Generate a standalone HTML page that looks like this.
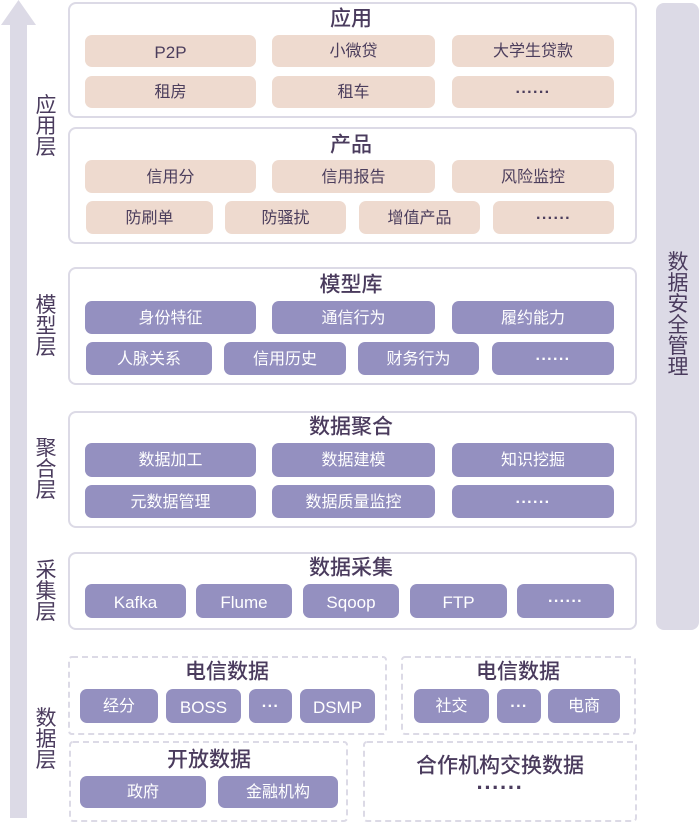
<!DOCTYPE html>
<html><head><meta charset="utf-8"><style>
html,body{margin:0;padding:0;background:#fff;}
body{width:700px;height:823px;position:relative;overflow:hidden;font-family:"Liberation Sans","Noto Sans CJK SC",sans-serif;}
.p{position:absolute;border:2px solid #dcdae6;border-radius:8px;box-sizing:border-box;background:#fff;}
.b{position:absolute;border-radius:7px;display:flex;align-items:center;justify-content:center;font-size:16px;line-height:1;white-space:nowrap;box-sizing:border-box;padding-top:2px;}
.pe{background:#eedacf;color:#4b3d5c;}
.pu{background:#9490c0;color:#fff;}
.lat{font-size:17px;}
.dots{font-weight:bold;letter-spacing:0.5px;}
.t{position:absolute;font-size:21px;font-weight:500;color:#4a3b5d;transform:translate(-50%,-50%);white-space:nowrap;line-height:1;}
.v{position:absolute;font-size:21px;line-height:21px;width:22px;text-align:center;color:#4a3b5d;}
</style></head><body>
<svg width="700" height="823" style="position:absolute;left:0;top:0">
<polygon points="1,25 18.5,0 36,25 27,25 27,818 10,818 10,25" fill="#dcdae6"/>
<rect x="656" y="3" width="43" height="627" rx="8" fill="#dcdae6"/>
<g fill="none" stroke="#dcdae6" stroke-width="2" stroke-dasharray="6 4">
<rect x="69" y="657" width="317" height="77" rx="3"/>
<rect x="402" y="657" width="233" height="77" rx="3"/>
<rect x="70" y="742" width="277" height="79" rx="3"/>
<rect x="364" y="742" width="272" height="79" rx="3"/>
</g>
</svg>

<div class="v" style="left:35px;top:95px">应<br>用<br>层</div>
<div class="v" style="left:35px;top:295px">模<br>型<br>层</div>
<div class="v" style="left:35px;top:438px">聚<br>合<br>层</div>
<div class="v" style="left:35px;top:560px">采<br>集<br>层</div>
<div class="v" style="left:35px;top:708px">数<br>据<br>层</div>
<div class="v" style="left:667px;top:252px">数<br>据<br>安<br>全<br>管<br>理</div>

<!-- 应用 -->
<div class="p" style="left:68px;top:2px;width:569px;height:116px"></div>
<div class="t" style="left:351px;top:19px">应用</div>
<div class="b pe lat" style="left:85px;top:35px;width:171px;height:32px">P2P</div>
<div class="b pe" style="left:272px;top:35px;width:163px;height:32px">小微贷</div>
<div class="b pe" style="left:452px;top:35px;width:162px;height:32px">大学生贷款</div>
<div class="b pe" style="left:85px;top:76px;width:171px;height:32px">租房</div>
<div class="b pe" style="left:272px;top:76px;width:163px;height:32px">租车</div>
<div class="b pe dots" style="left:452px;top:76px;width:162px;height:32px">······</div>

<!-- 产品 -->
<div class="p" style="left:68px;top:127px;width:569px;height:117px"></div>
<div class="t" style="left:351px;top:145px">产品</div>
<div class="b pe" style="left:85px;top:160px;width:171px;height:33px">信用分</div>
<div class="b pe" style="left:272px;top:160px;width:163px;height:33px">信用报告</div>
<div class="b pe" style="left:452px;top:160px;width:162px;height:33px">风险监控</div>
<div class="b pe" style="left:86px;top:201px;width:127px;height:33px">防刷单</div>
<div class="b pe" style="left:225px;top:201px;width:121px;height:33px">防骚扰</div>
<div class="b pe" style="left:359px;top:201px;width:121px;height:33px">增值产品</div>
<div class="b pe dots" style="left:493px;top:201px;width:121px;height:33px">······</div>

<!-- 模型库 -->
<div class="p" style="left:68px;top:267px;width:569px;height:118px"></div>
<div class="t" style="left:351px;top:285px">模型库</div>
<div class="b pu" style="left:85px;top:301px;width:171px;height:33px">身份特征</div>
<div class="b pu" style="left:272px;top:301px;width:163px;height:33px">通信行为</div>
<div class="b pu" style="left:452px;top:301px;width:162px;height:33px">履约能力</div>
<div class="b pu" style="left:86px;top:342px;width:126px;height:33px">人脉关系</div>
<div class="b pu" style="left:224px;top:342px;width:122px;height:33px">信用历史</div>
<div class="b pu" style="left:358px;top:342px;width:121px;height:33px">财务行为</div>
<div class="b pu dots" style="left:492px;top:342px;width:122px;height:33px">······</div>

<!-- 数据聚合 -->
<div class="p" style="left:68px;top:411px;width:569px;height:117px"></div>
<div class="t" style="left:351px;top:427px">数据聚合</div>
<div class="b pu" style="left:85px;top:443px;width:171px;height:34px">数据加工</div>
<div class="b pu" style="left:272px;top:443px;width:163px;height:34px">数据建模</div>
<div class="b pu" style="left:452px;top:443px;width:162px;height:34px">知识挖掘</div>
<div class="b pu" style="left:85px;top:485px;width:171px;height:33px">元数据管理</div>
<div class="b pu" style="left:272px;top:485px;width:163px;height:33px">数据质量监控</div>
<div class="b pu dots" style="left:452px;top:485px;width:162px;height:33px">······</div>

<!-- 数据采集 -->
<div class="p" style="left:68px;top:552px;width:569px;height:78px"></div>
<div class="t" style="left:351px;top:568px">数据采集</div>
<div class="b pu lat" style="left:85px;top:584px;width:101px;height:34px">Kafka</div>
<div class="b pu lat" style="left:196px;top:584px;width:96px;height:34px">Flume</div>
<div class="b pu lat" style="left:303px;top:584px;width:96px;height:34px">Sqoop</div>
<div class="b pu lat" style="left:410px;top:584px;width:97px;height:34px">FTP</div>
<div class="b pu dots" style="left:517px;top:584px;width:97px;height:34px">······</div>

<!-- 数据层 -->
<div class="t" style="left:227px;top:672px">电信数据</div>
<div class="b pu" style="left:80px;top:689px;width:78px;height:34px">经分</div>
<div class="b pu lat" style="left:166px;top:689px;width:75px;height:34px">BOSS</div>
<div class="b pu dots" style="left:249px;top:689px;width:43px;height:34px">···</div>
<div class="b pu lat" style="left:300px;top:689px;width:75px;height:34px">DSMP</div>

<div class="t" style="left:518px;top:672px">电信数据</div>
<div class="b pu" style="left:414px;top:689px;width:75px;height:34px">社交</div>
<div class="b pu dots" style="left:497px;top:689px;width:44px;height:34px">···</div>
<div class="b pu" style="left:548px;top:689px;width:72px;height:34px">电商</div>

<div class="t" style="left:209px;top:760px">开放数据</div>
<div class="b pu" style="left:80px;top:776px;width:126px;height:32px">政府</div>
<div class="b pu" style="left:218px;top:776px;width:120px;height:32px">金融机构</div>

<div class="t" style="left:500px;top:766px">合作机构交换数据</div>
<div class="t" style="left:500px;top:788px;font-size:22px;font-weight:bold;letter-spacing:0.5px">······</div>
</body></html>
